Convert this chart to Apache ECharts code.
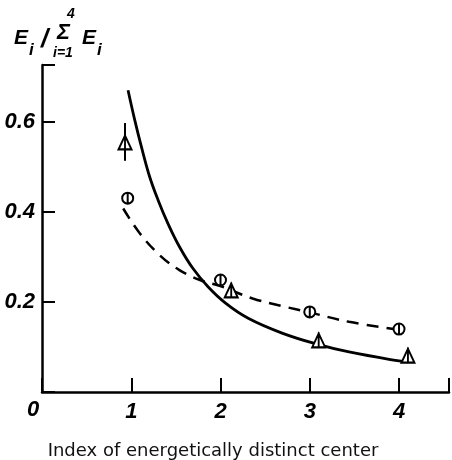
<!DOCTYPE html>
<html><head><meta charset="utf-8">
<script src="https://cdn.jsdelivr.net/npm/echarts@6/dist/echarts.min.js"></script>
<style>html,body{margin:0;padding:0;background:#fff}#c{width:452px;height:460px}</style>
</head><body><div id="c"></div>
<script>
const xTicks = [1, 2, 3, 4];
const yTicks = [0.2, 0.4, 0.6];
const triX = [0.93, 2.12, 3.1, 4.1];
const triY = [0.556, 0.227, 0.116, 0.082];
const triErr = [0.042, 0, 0, 0];
const circX = [0.96, 2.0, 3.0, 4.0];
const circY = [0.431, 0.249, 0.178, 0.14];
const solidX = [0.964, 1.04, 1.114, 1.207, 1.30, 1.41, 1.54, 1.69, 1.86, 2.06, 2.31, 2.69, 3.07, 3.44, 4.0, 4.1];
const solidY = [0.671, 0.604, 0.545, 0.478, 0.427, 0.375, 0.323, 0.275, 0.234, 0.197, 0.164, 0.131, 0.107, 0.089, 0.069, 0.067];
const dashX = [0.91, 1.095, 1.32, 1.54, 1.77, 1.99, 2.36, 2.69, 3.0, 3.44, 3.94];
const dashY = [0.408, 0.353, 0.304, 0.271, 0.249, 0.236, 0.208, 0.191, 0.177, 0.156, 0.14];
const xTitle = 'Index of energetically distinct center';

const zip = (a, b) => a.map((v, i) => [v, b[i]]);
const FONT = '"Liberation Sans", Arial, sans-serif';
const circSym = 'path://M0,5 A5,5 0 1,1 10,5 A5,5 0 1,1 0,5 Z M5,0 L5,10';
const triSym = 'path://M6,1 L12,14 L0,14 Z M6,0 L6,14';

const chart = echarts.init(document.getElementById('c'));
chart.setOption({
  animation: false,
  backgroundColor: '#fff',
  grid: { left: 42, right: 2, top: 65, bottom: 68 },
  xAxis: {
    type: 'value', min: 0, max: 4.56, interval: 1,
    axisLine: { lineStyle: { color: '#000', width: 2.5 } },
    axisTick: { inside: true, length: 14, lineStyle: { color: '#000', width: 2 } },
    splitLine: { show: false },
    axisLabel: {
      margin: 9, color: '#000', fontFamily: FONT, fontStyle: 'italic', fontWeight: 'bold', fontSize: 22,
      formatter: v => xTicks.includes(v) ? String(v) : ''
    }
  },
  yAxis: {
    type: 'value', min: 0, max: 0.727, interval: 0.2,
    axisLine: { lineStyle: { color: '#000', width: 2.5 } },
    axisTick: { inside: true, length: 13, lineStyle: { color: '#000', width: 2 } },
    splitLine: { show: false },
    axisLabel: {
      margin: 7, color: '#000', fontFamily: FONT, fontStyle: 'italic', fontWeight: 'bold', fontSize: 22,
      formatter: v => { const t = yTicks.find(k => Math.abs(k - v) < 1e-6); return t ? t.toFixed(1) : ''; }
    }
  },
  series: [
    { type: 'line', data: zip(solidX, solidY), smooth: 0.4, showSymbol: false,
      lineStyle: { color: '#000', width: 2.8 }, z: 2 },
    { type: 'line', data: zip(dashX, dashY), smooth: 0.4, showSymbol: false,
      lineStyle: { color: '#000', width: 2.5, type: [12, 8] }, z: 2 },
    { type: 'custom', z: 3,
      data: triX.map((x, i) => [x, triY[i], triErr[i]]),
      renderItem: (params, api) => {
        const e = api.value(2);
        if (!e) return null;
        const p1 = api.coord([api.value(0), api.value(1) + e]);
        const p2 = api.coord([api.value(0), api.value(1) - e]);
        return { type: 'line', shape: { x1: p1[0], y1: p1[1], x2: p2[0], y2: p2[1] },
                 style: { stroke: '#000', lineWidth: 2 } };
      } },
    { type: 'scatter', data: zip(triX, triY), symbol: triSym, symbolSize: [13, 15], z: 4,
      itemStyle: { color: '#fff', borderColor: '#000', borderWidth: 2, opacity: 1 } },
    { type: 'scatter', data: zip(circX, circY), symbol: circSym, symbolSize: 11, z: 4,
      itemStyle: { color: '#fff', borderColor: '#000', borderWidth: 2, opacity: 1 } }
  ],
  graphic: [
    { type: 'text', left: 27, top: 399, style: { text: '0', font: 'italic bold 22px ' + FONT, fill: '#000' } },
    { type: 'text', x: 213, y: 451, style: { text: xTitle, font: '18px "DejaVu Sans", sans-serif', fill: '#111', align: 'center', verticalAlign: 'middle' } },
    { type: 'text', x: 14, y: 28, style: { text: 'E', font: 'italic bold 21px ' + FONT, fill: '#000' } },
    { type: 'text', x: 29, y: 42, style: { text: 'i', font: 'italic bold 17px ' + FONT, fill: '#000' } },
    { type: 'text', x: 41, y: 27, style: { text: '/', font: 'italic bold 26px ' + FONT, fill: '#000' } },
    { type: 'text', x: 57, y: 22, style: { text: 'Σ', font: 'italic bold 22px ' + FONT, fill: '#000' } },
    { type: 'text', x: 67, y: 7, style: { text: '4', font: 'italic bold 14px ' + FONT, fill: '#000' } },
    { type: 'text', x: 53, y: 46, style: { text: 'i=1', font: 'italic bold 14px ' + FONT, fill: '#000' } },
    { type: 'text', x: 82, y: 28, style: { text: 'E', font: 'italic bold 21px ' + FONT, fill: '#000' } },
    { type: 'text', x: 97, y: 42, style: { text: 'i', font: 'italic bold 17px ' + FONT, fill: '#000' } }
  ]
});
</script></body></html>
